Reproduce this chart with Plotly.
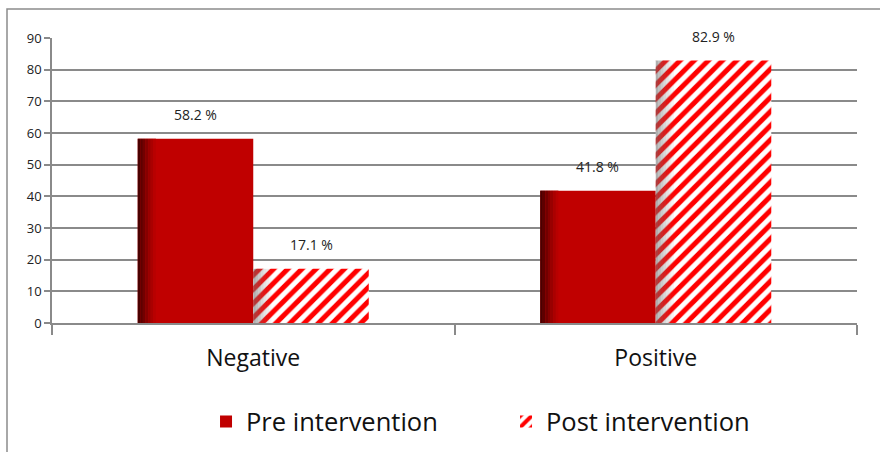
import plotly.graph_objects as go

# Share of results before and after the intervention (%)
categories = ["Negative", "Positive"]
pre_values = [58.2, 41.8]
post_values = [17.1, 82.9]
y_ticks = [0, 10, 20, 30, 40, 50, 60, 70, 80, 90]

FONT = "'Open Sans', Lato, sans-serif"
BAR_W = 0.287          # width of one bar, in category units
PX = 1 / 402.5         # one pixel, in category units
PRE_COLOR = "#c00000"

fig = go.Figure()

# Main bars
fig.add_trace(go.Bar(
    x=categories, y=pre_values, name="Pre intervention",
    offset=-BAR_W, width=BAR_W,
    marker=dict(color=PRE_COLOR, line=dict(width=0)),
))
fig.add_trace(go.Bar(
    x=categories, y=post_values, name="Post intervention",
    offset=0, width=BAR_W,
    marker=dict(color="#ffffff", line=dict(width=0),
                pattern=dict(shape="/", fgcolor="#ff0000", bgcolor="#ffffff",
                             fgopacity=1, fillmode="replace",
                             size=10, solidity=0.5)),
))

# Shaded left edge on the pre bars (dark red fading into the fill)
pre_shade = ["#4a0000", "#5e0000", "#720000", "#860000", "#990000", "#aa0000", "#b80000"]
step = 2.6 * PX
for i, c in enumerate(pre_shade):
    fig.add_trace(go.Bar(
        x=categories, y=pre_values, showlegend=False, hoverinfo="skip",
        offset=-BAR_W + i * step, width=step,
        marker=dict(color=c, line=dict(width=0)),
    ))

# Soft grey shadow on the left edge of the post bars
post_alpha = [0.55, 0.45, 0.36, 0.27, 0.19, 0.12, 0.06]
for i, a in enumerate(post_alpha):
    fig.add_trace(go.Bar(
        x=categories, y=post_values, showlegend=False, hoverinfo="skip",
        offset=i * step, width=step,
        marker=dict(color=f"rgba(110,110,110,{a})", line=dict(width=0)),
    ))

# Value labels above each bar
for cat, v in zip(categories, pre_values):
    fig.add_annotation(x=cat, y=v, text=f"{v:.1f} %", showarrow=False,
                       xshift=-BAR_W / PX / 2, yshift=24,
                       font=dict(family=FONT, size=14, color="#222222"))
for cat, v in zip(categories, post_values):
    fig.add_annotation(x=cat, y=v, text=f"{v:.1f} %", showarrow=False,
                       xshift=BAR_W / PX / 2, yshift=24,
                       font=dict(family=FONT, size=14, color="#222222"))

# Outer chart frame
fig.add_shape(type="rect", xref="paper", yref="paper",
              x0=-0.0559, x1=1.2, y0=-0.6, y1=1.1018,
              line=dict(color="#8c8c8c", width=1.5), fillcolor="rgba(0,0,0,0)",
              layer="below")

fig.update_layout(
    width=880, height=452,
    margin=dict(l=52, r=23, t=38, b=129, autoexpand=False),
    paper_bgcolor="#ffffff", plot_bgcolor="#ffffff",
    barmode="overlay",
    font=dict(family=FONT, color="#111111"),
    xaxis=dict(
        type="category", categoryorder="array", categoryarray=categories,
        range=[-0.5, 1.5], automargin=False,
        showline=True, linecolor="#8a8a8a", linewidth=1.5,
        ticks="outside", tickson="boundaries", ticklen=10,
        tickcolor="#8a8a8a", tickwidth=1.5,
        ticklabelstandoff=14,
        tickfont=dict(family=FONT, size=23, color="#111111"),
        showgrid=False, fixedrange=True,
    ),
    yaxis=dict(
        range=[0, 90], tickvals=y_ticks, automargin=False,
        showline=True, linecolor="#8a8a8a", linewidth=1.5,
        ticks="outside", ticklen=6, tickcolor="#8a8a8a", tickwidth=1.5,
        showgrid=True, gridcolor="#8a8a8a", gridwidth=1.5,
        zeroline=False,
        tickfont=dict(family=FONT, size=13, color="#222222"),
        fixedrange=True,
    ),
    legend=dict(
        orientation="h", x=0.564, xanchor="center", y=-0.347, yanchor="middle",
        font=dict(family=FONT, size=25.5, color="#111111"),
        bgcolor="rgba(0,0,0,0)", itemwidth=30, entrywidth=255,
    ),
    showlegend=True,
)

fig.write_html("out.html")
